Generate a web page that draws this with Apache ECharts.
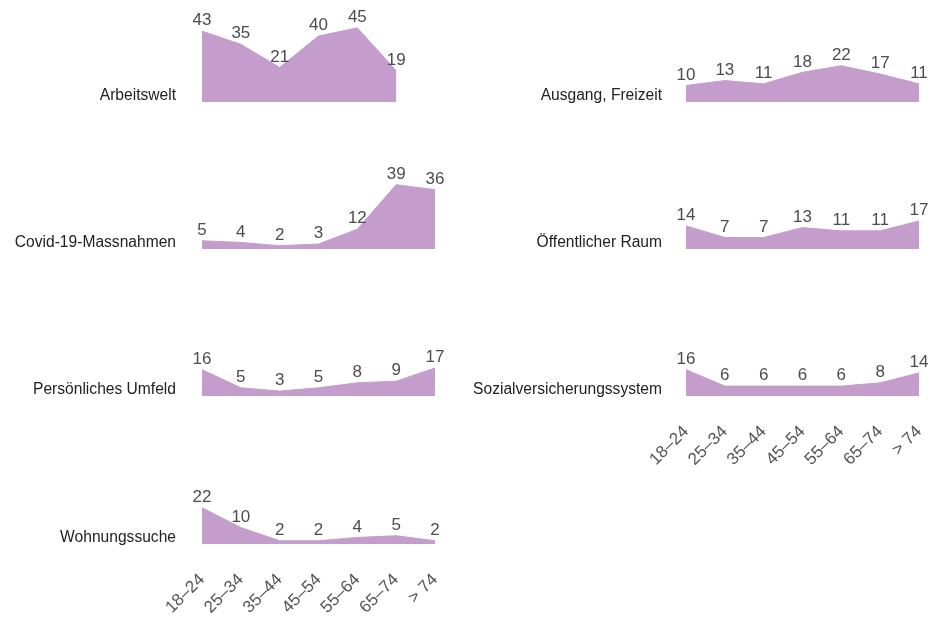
<!DOCTYPE html>
<html><head><meta charset="utf-8">
<script src="https://cdn.jsdelivr.net/npm/echarts@6/dist/echarts.min.js"></script>
<style>html,body{margin:0;padding:0;background:#fff}#c{width:931px;height:619px}</style>
</head><body><div id="c"></div>
<script>
const ageGroups = ['18–24','25–34','35–44','45–54','55–64','65–74','> 74'];
const panelNames = ['Arbeitswelt','Covid-19-Massnahmen','Persönliches Umfeld','Wohnungssuche','Ausgang, Freizeit','Öffentlicher Raum','Sozialversicherungssystem'];
const arbeitswelt = [43,35,21,40,45,19,null];
const covid = [5,4,2,3,12,39,36];
const umfeld = [16,5,3,5,8,9,17];
const wohnung = [22,10,2,2,4,5,2];
const ausgang = [10,13,11,18,22,17,11];
const oeffentlich = [14,7,7,13,11,11,17];
const sozial = [16,6,6,6,6,8,14];

const seriesData = [arbeitswelt,covid,umfeld,wohnung,ausgang,oeffentlich,sozial];
const layout = [
  {x:202,b:102,axis:false},{x:202,b:249,axis:false},{x:202,b:396,axis:false},{x:202,b:544,axis:true},
  {x:686,b:102,axis:false},{x:686,b:249,axis:false},{x:686,b:396,axis:true}
];
const H = 75, W = 233, FONT = '"Liberation Sans", Arial, Helvetica, sans-serif';
const color = '#c59dcc';

const grid=[], xAxis=[], yAxis=[], series=[], graphic=[];
layout.forEach((L,i)=>{
  grid.push({left:L.x, top:L.b-H, width:W, height:H});
  xAxis.push({type:'category', gridIndex:i, data:ageGroups, boundaryGap:false,
    axisLine:{show:false}, axisTick:{show:false}, splitLine:{show:false},
    axisLabel:{show:L.axis, rotate:45, margin:33, fontSize:17, color:'#555', fontFamily:FONT, interval:0}});
  yAxis.push({type:'value', gridIndex:i, min:0, max:45.5, show:false, splitLine:{show:false}});
  series.push({type:'line', xAxisIndex:i, yAxisIndex:i, data:seriesData[i],
    symbol:'circle', symbolSize:0, showSymbol:true,
    lineStyle:{width:1, color:color}, itemStyle:{color:color},
    areaStyle:{color:color, opacity:1},
    label:{show:true, position:'top', distance:2, fontSize:17, color:'#4d4d4d', fontFamily:FONT},
    silent:true, animation:false});
  graphic.push({type:'text', x:(L.x===202?176:662), y:L.b-6,
    style:{text:panelNames[i], align:'right', verticalAlign:'middle', textAlign:'right', textVerticalAlign:'middle',
      fill:'#222', font:'15.6px '+FONT}});
});

const chart = echarts.init(document.getElementById('c'), null, {renderer:'canvas'});
chart.setOption({animation:false, grid, xAxis, yAxis, series, graphic});
</script></body></html>
